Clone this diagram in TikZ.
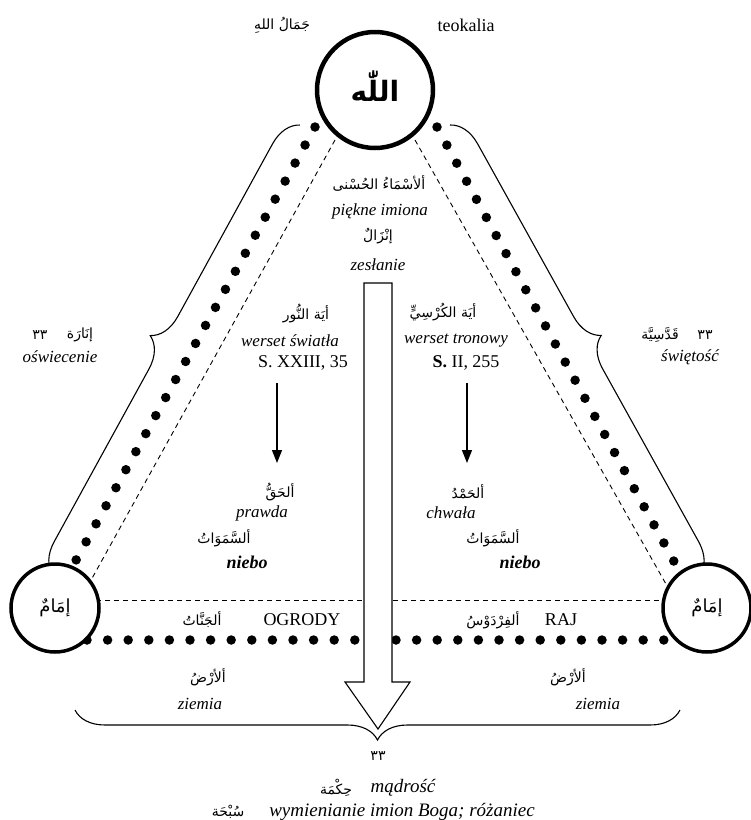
\documentclass[tikz,border=0pt]{standalone}
\usepackage{fontspec}
\setmainfont{Liberation Serif}
\newfontfamily\arfont[Script=Arabic]{DejaVu Sans}
\TeXXeTstate=1
\usetikzlibrary{decorations.pathreplacing,arrows.meta}
\newcommand{\AR}[1]{\beginR #1\endR}
\begin{document}
\begin{tikzpicture}[x=1pt,y=-1pt,
  lat/.style={font=\fontsize{18}{20}\selectfont, inner sep=1pt},
  itl/.style={font=\fontsize{17}{20}\selectfont\itshape, inner sep=1pt},
  bit/.style={font=\fontsize{19}{22}\selectfont\itshape, inner sep=1pt},
  nieb/.style={font=\fontsize{18}{20}\selectfont\bfseries\itshape, inner sep=1pt},
  arab/.style={font=\arfont\fontsize{14}{17}\selectfont, inner sep=1pt},
  bigcirc/.style={draw, circle, line width=4pt, fill=white, inner sep=0pt},
  dashln/.style={line width=0.9pt, dash pattern=on 5pt off 4pt},
  dotln/.style={line width=9.5pt, line cap=round, dash pattern=on 0pt off 20.6pt},
  brc/.style={line width=1.1pt, decorate, decoration={brace, amplitude=30pt}},
  smallarr/.style={line width=1.2pt, -{Triangle[length=13pt,width=10pt]}},
  bigarr/.style={line width=1.1pt, fill=white}
]
\useasboundingbox (0,0) rectangle (751,820);

% named points
\coordinate (dLt) at (335,140);
\coordinate (dLb) at (80,600);
\coordinate (dRt) at (415,140);
\coordinate (dRb) at (675,600);
\coordinate (hL) at (60,600);
\coordinate (hR) at (700,600);
\coordinate (pLt) at (315,127);
\coordinate (pLb) at (75,562);
\coordinate (pRt) at (437,127);
\coordinate (pRb) at (683,578);
\coordinate (pBl) at (87,640);
\coordinate (pBr) at (680,640);
\coordinate (bLt) at (300,125);
\coordinate (bLb) at (53,575);
\coordinate (bRt) at (450,125);
\coordinate (bRb) at (700,575);
\coordinate (bBl) at (75,710);
\coordinate (bBr) at (680,710);

% dashed triangle
\draw[dashln] (dLt) -- (dLb);
\draw[dashln] (dRt) -- (dRb);
\draw[dashln] (hL) -- (hR);

% dotted lines
\draw[dotln] (pLt) -- (pLb);
\draw[dotln] (pRt) -- (pRb);
\draw[dotln] (pBl) -- (pBr);

% braces
\draw[brc] (bLb) -- (bLt);
\draw[brc] (bRt) -- (bRb);
\draw[brc] (bBr) -- (bBl);

% circles
\node[bigcirc, line width=4.5pt, minimum size=116pt] (allah) at (375,90) {};
\node[bigcirc, line width=3.5pt, minimum size=88pt] (imL) at (55,608) {};
\node[bigcirc, line width=3.5pt, minimum size=88pt] (imR) at (707,608) {};
\node[font=\arfont\bfseries\fontsize{28}{30}\selectfont, inner sep=1pt] (allahT) at (375,86) {\AR{اللّٰه}};
\node[arab, font=\arfont\fontsize{18}{20}\selectfont] (imLT) at (imL) {\AR{إمَامٌ}};
\node[arab, font=\arfont\fontsize{18}{20}\selectfont] (imRT) at (imR) {\AR{إمَامٌ}};

% top texts
\node[arab] (jamal) at (282,25) {\AR{جَمَالُ اللهِ}};
\node[lat] (teo) at (466,25) {teokalia};

% centre texts
\node[arab] (asma) at (379,183) {\AR{ألأسْمَاءُ الحُسْنى}};
\node[itl] (piek) at (380,211) {piękne imiona};
\node[arab] (inzal) at (378,236) {\AR{إنْزَالٌ}};
\node[itl] (zesl) at (378,265) {zesłanie};

\node[arab] (nur) at (306,314) {\AR{أيَة النُّور}};
\node[itl] (wsw) at (290,341) {werset światła};
\node[lat] (sL) at (303,363) {S. XXIII, 35};
\node[arab] (kursi) at (443,312) {\AR{أيَة الكُرْسِيٍّ}};
\node[itl] (wtr) at (456,341) {werset tronowy};
\node[lat] (sR) at (466,363) {\textbf{S.} II, 255};

\coordinate (aLs) at (277,383);
\coordinate (aLe) at (277,463);
\coordinate (aRs) at (467,383);
\coordinate (aRe) at (467,463);
\draw[smallarr] (aLs) -- (aLe);
\draw[smallarr] (aRs) -- (aRe);

\node[arab] (haqq) at (280,492) {\AR{ألحَقُّ}};
\node[itl] (prawda) at (262,513) {prawda};
\node[arab] (samL) at (224,538) {\AR{ألسَّمَوَاتُ}};
\node[nieb] (niebL) at (247,562) {niebo};
\node[arab] (hamd) at (468,492) {\AR{ألحَمْدُ}};
\node[itl] (chw) at (451,513) {chwała};
\node[arab] (samR) at (493,538) {\AR{ألسَّمَوَاتُ}};
\node[nieb] (niebR) at (520,562) {niebo};

% bottom band
\node[arab] (jann) at (202,620) {\AR{ألجَنَّاتُ}};
\node[lat] (ogr) at (302,620) {OGRODY};
\node[arab] (firdaws) at (493,620) {\AR{ألفِرْدَوْسُ}};
\node[lat] (raj) at (561,620) {RAJ};

\node[arab] (ardL) at (208,677) {\AR{ألأرْضُ}};
\node[itl] (ziemL) at (200,704) {ziemia};
\node[arab] (ardR) at (568,677) {\AR{ألأرْضُ}};
\node[itl] (ziemR) at (598,704) {ziemia};

% side texts
\node[arab] (inara) at (80,335) {\AR{إنَارَة}};
\node[arab] (n33L) at (40,335) {\AR{٣٣}};
\node[itl] (oswi) at (60,357) {oświecenie};
\node[arab] (qud) at (660,335) {\AR{قَدَّسِيَّة}};
\node[arab] (n33R) at (705,335) {\AR{٣٣}};
\node[itl] (swiet) at (690,357) {świętość};

% big arrow
\draw[bigarr] (364,283) -- (392,283) -- (392,682) -- (410,682) -- (378,729) -- (345,682) -- (364,682) -- cycle;

% bottom texts
\node[arab] (n33B) at (378,756) {\AR{٣٣}};
\node[arab] (hikma) at (336,788) {\AR{حِكْمَة}};
\node[bit] (madr) at (403,788) {mądrość};
\node[arab] (subha) at (228,812) {\AR{سُبْحَة}};
\node[bit] (wym) at (402,812) {wymienianie imion Boga; różaniec};
\end{tikzpicture}
\end{document}
